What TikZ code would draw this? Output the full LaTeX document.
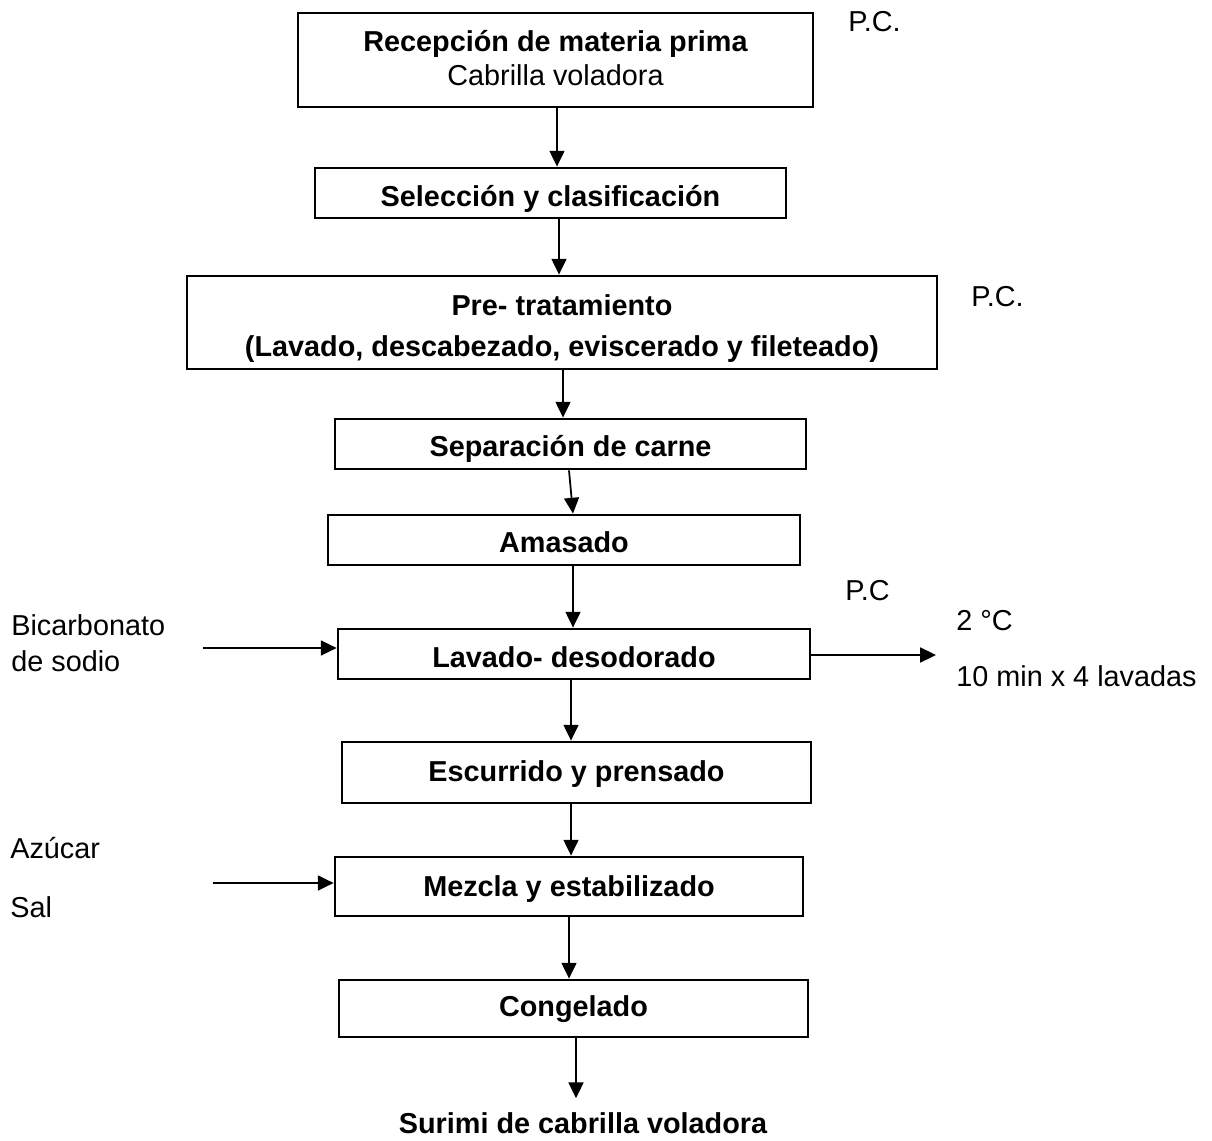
\documentclass[tikz,border=0pt]{standalone}
\usepackage{fontspec}
\setmainfont{Liberation Sans}
\usetikzlibrary{arrows.meta}
\tikzset{punta/.tip={Triangle[length=9pt,width=8.5pt]}}
\newcommand{\tamano}{\fontsize{16.4}{19.3}\selectfont}

\begin{document}
\begin{tikzpicture}[x=0.02cm, y=-0.02cm,
    paso/.style={draw, line width=1.6pt, inner sep=0pt, align=center, font=\tamano\bfseries},
    nota/.style={inner sep=0pt, font=\tamano},
    flujo/.style={-{punta}, line width=1pt}]
            \useasboundingbox (0,0) rectangle (1212,1141);

            \node (rec) [paso, minimum width=10.3cm, minimum height=1.88cm] at (555.5,60)
                {Recepción de materia prima\\\textmd{Cabrilla voladora}\rule[-2.8pt]{0pt}{0pt}};
            \node (sel) [paso, minimum width=9.42cm, minimum height=1cm, text height=15.5pt, text depth=0pt] at (550.5,193)
                {Selección y clasificación};
            \node (pre) [paso, minimum width=15cm, minimum height=1.86cm] at (562,322.5)
                {\rule{0pt}{18.7pt}Pre- tratamiento\\[4.5pt](Lavado, descabezado, eviscerado y fileteado)};
            \node (sep) [paso, minimum width=9.42cm, minimum height=1cm, text height=14.7pt, text depth=0pt] at (570.5,444)
                {Separación de carne};
            \node (ama) [paso, minimum width=9.44cm, minimum height=1cm, text height=14.7pt, text depth=0pt] at (564,540)
                {Amasado};
            \node (lav) [paso, minimum width=9.44cm, minimum height=1cm, text height=15.9pt, text depth=0pt] at (574,654)
                {Lavado- desodorado};
            \node (esc) [paso, minimum width=9.38cm, minimum height=1.22cm, text height=10.8pt, text depth=0pt] at (576.5,772.5)
                {Escurrido y prensado};
            \node (mez) [paso, minimum width=9.36cm, minimum height=1.18cm, text height=11.9pt, text depth=0pt] at (569,886.5)
                {Mezcla y estabilizado};
            \node (con) [paso, minimum width=9.38cm, minimum height=1.14cm, text height=9.6pt, text depth=0pt] at (573.5,1008.5)
                {Congelado};
            \node (surimi) [nota, anchor=base, font=\tamano\bfseries, inner ysep=7.7pt] at (583,1133)
                {Surimi de cabrilla voladora};

            \node (pc1) [nota, anchor=base west] at (848,32) {P.C.};
            \node (pc2) [nota, anchor=base west] at (971,307) {P.C.};
            \node (pc3) [nota, anchor=base west] at (845,600) {P.C};
            \node (bic) [nota, anchor=west, align=left] at (11,643.5) {Bicarbonato\\[1.1pt]de sodio};
            \node (temp) [nota, anchor=base west] at (956,630) {2 °C};
            \node (tiempo) [nota, anchor=base west] at (956,686) {10 min x 4 lavadas};
            \node (azucar) [nota, anchor=base west] at (10,858) {Azúcar};
            \node (sal) [nota, anchor=base west] at (10,917) {Sal};

            \coordinate (bicin) at (203,648);
            \coordinate (salida) at (936,655);
            \coordinate (azin) at (213,883);

            \draw[flujo] (rec.south -| 557,0) -- (sel.north -| 557,0);
            \draw[flujo] (sel.south -| 559,0) -- (pre.north -| 559,0);
            \draw[flujo] (pre.south -| 563,0) -- (sep.north -| 563,0);
            \draw[flujo] (sep.south -| 569,0) -- (ama.north -| 573,0);
            \draw[flujo] (ama.south -| 573,0) -- (lav.north -| 573,0);
            \draw[flujo] (lav.south -| 571,0) -- (esc.north -| 571,0);
            \draw[flujo] (esc.south -| 571,0) -- (mez.north -| 571,0);
            \draw[flujo] (mez.south -| 569,0) -- (con.north -| 569,0);
            \draw[flujo] (con.south -| 576,0) -- (surimi.north -| 576,0);
            \draw[flujo] (bicin) -- (bicin -| lav.west);
            \draw[flujo] (salida -| lav.east) -- (salida);
            \draw[flujo] (azin) -- (azin -| mez.west);
        \end{tikzpicture}
\end{document}
